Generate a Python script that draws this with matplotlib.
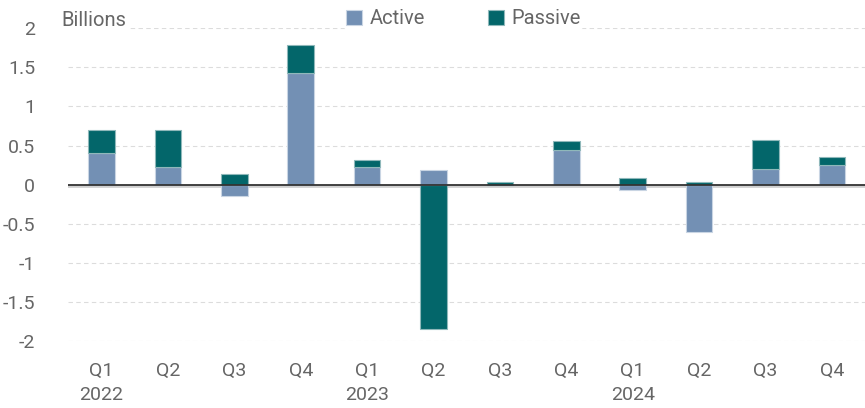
import numpy as np
import matplotlib.pyplot as plt
from matplotlib import font_manager

# Data (billions)
quarters = ["Q1", "Q2", "Q3", "Q4", "Q1", "Q2", "Q3", "Q4", "Q1", "Q2", "Q3", "Q4"]
years = ["2022", "", "", "", "2023", "", "", "", "2024", "", "", ""]
active = [0.40, 0.23, -0.15, 1.43, 0.23, 0.19, 0.00, 0.44, -0.07, -0.60, 0.20, 0.25]
passive = [0.30, 0.47, 0.14, 0.35, 0.08, -1.84, 0.03, 0.12, 0.085, 0.03, 0.37, 0.10]

active_color = "#7390b4"
passive_color = "#03666a"
text_color = "#666666"

names = {f.name for f in font_manager.fontManager.ttflist}
family = ["Liberation Sans Narrow", "DejaVu Sans"] if "Liberation Sans Narrow" in names else ["Roboto", "DejaVu Sans"]
plt.rcParams["font.family"] = family

fig = plt.figure(figsize=(8.65, 4.08), dpi=100)
ax = fig.add_axes([0.079, 0.164, 0.921, 0.767])

x = np.arange(len(quarters))
a = np.array(active)
p = np.array(passive)

# stack positives on positives, negatives on negatives
a_pos = np.where(a > 0, a, 0)
a_neg = np.where(a < 0, a, 0)
p_bottom = np.where(p >= 0, a_pos, a_neg)

w = 0.4
ax.bar(x, a, width=w, color=active_color, edgecolor="#c9d5e3", linewidth=0.8,
       label="Active", zorder=3)
ax.bar(x, p, width=w, bottom=p_bottom, color=passive_color, edgecolor="#8fb8ba",
       linewidth=0.8, label="Passive", zorder=3)

ax.set_xlim(-0.5, len(quarters) - 0.5)
ax.set_ylim(-2, 2)
ax.set_yticks([-2, -1.5, -1, -0.5, 0, 0.5, 1, 1.5, 2])
ax.set_yticklabels(["-2", "-1.5", "-1", "-0.5", "0", "0.5", "1", "1.5", "2"])
ax.set_xticks(x)
ax.set_xticklabels([q + "\n" + y for q, y in zip(quarters, years)],
                   linespacing=1.4)

ax.grid(axis="y", color="#dcdcdc", linestyle=(0, (4, 3)), linewidth=0.8, zorder=0)
ax.axhline(-0.02, color="#d0d0d0", linewidth=2, zorder=2)
ax.axhline(0, color="#333333", linewidth=1.3, zorder=4)

for s in ax.spines.values():
    s.set_visible(False)
ax.tick_params(axis="both", length=0, labelsize=14, colors=text_color)
ax.tick_params(axis="y", pad=24)
ax.tick_params(axis="x", pad=15)
for lbl in ax.get_xticklabels():
    lbl.set_verticalalignment("top")

ax.text(-0.6, 2.1, "Billions", fontsize=14.5, color=text_color,
        ha="left", va="center", clip_on=False,
        bbox=dict(facecolor="white", edgecolor="none", pad=1))

leg = ax.legend(loc="center", bbox_to_anchor=(0.496, 1.03), ncol=2, frameon=True,
                fontsize=14.5, handlelength=0.8, handleheight=0.8, handletextpad=0.4,
                columnspacing=3.1, borderpad=0.1, edgecolor="none", facecolor="white",
                framealpha=1)
for t in leg.get_texts():
    t.set_color(text_color)

plt.savefig("out.png", dpi=100)
plt.close()
